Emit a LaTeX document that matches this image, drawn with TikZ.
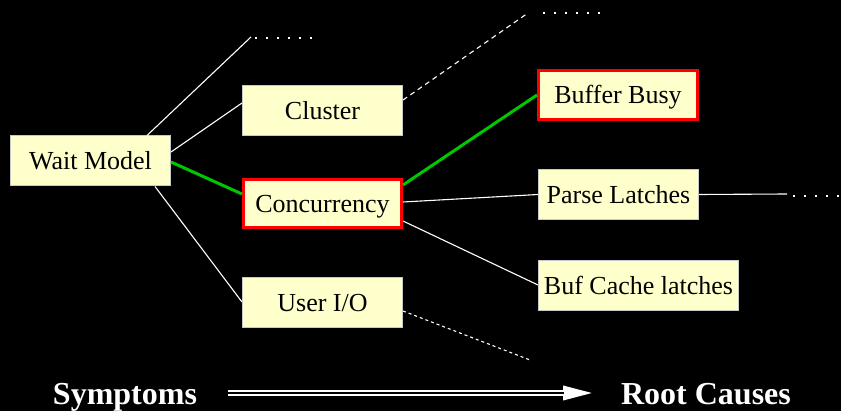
\documentclass[tikz,border=0pt]{standalone}
\usepackage{fontspec}
\setmainfont{Liberation Serif}
\usetikzlibrary{calc,arrows.meta}
\definecolor{boxfill}{HTML}{FFFFCC}
\definecolor{boxline}{HTML}{C8C8C8}
\definecolor{hotred}{HTML}{FF0000}
\definecolor{pathgreen}{HTML}{00C800}
\tikzset{
  cause/.style={draw=boxline, line width=1pt, fill=boxfill, inner sep=0pt,
    text height=18pt, text depth=0pt, minimum height=50pt,
    font=\fontsize{26}{30}\selectfont},
  hotcause/.style={cause, draw=hotred, line width=3pt},
  link/.style={white, line width=1.1pt},
  hotlink/.style={pathgreen, line width=3pt},
  dashlink/.style={white, line width=1.1pt, dash pattern=on 5pt off 4pt},
  moredots/.style={white, line width=2pt, dash pattern=on 2pt off 9pt},
  caption/.style={white, font=\bfseries\fontsize{32}{36}\selectfont, anchor=base}
}
\begin{document}
\begin{tikzpicture}[x=1pt,y=-1pt]
\fill[black] (0,0) rectangle (841,411);
\useasboundingbox (0,0) rectangle (841,411);

% boxes
\node[cause, minimum width=160pt] (wm) at (90.5,161) {Wait Model};
\node[cause, minimum width=160pt] (cl) at (322.5,111) {Cluster};
\node[hotcause, minimum width=158pt, minimum height=48pt] (cc) at (322.5,203.5) {Concurrency};
\node[cause, minimum width=160pt] (uio) at (322.5,303) {User I/O};
\node[hotcause, minimum width=159pt, minimum height=49pt] (bb) at (618,95) {Buffer Busy};
\node[cause, minimum width=160pt] (pl) at (618.5,194.5) {Parse Latches};
\node[cause, minimum width=200pt] (bcl) at (638.5,286) {Buf Cache latches};

% free ends of the open branches
\coordinate (wmtop) at (251,37);
\coordinate (wmdotsA) at (255,38);
\coordinate (wmdotsB) at (313,38);
\coordinate (cltop) at (528,13);
\coordinate (cldotsA) at (543,13);
\coordinate (cldotsB) at (601,13);
\coordinate (plend) at (787,194);
\coordinate (pldotsA) at (793,196);
\coordinate (pldotsB) at (841,196);
\coordinate (uioend) at (530,360);

% branches
\draw[link] ($(wm.north west)+(137,0)$) -- (wmtop);
\draw[moredots] (wmdotsA) -- (wmdotsB);
\draw[link] ($(wm.east)+(0,-9)$) -- ($(cl.west)+(0,-8)$);
\draw[link] ($(wm.south west)+(145,0)$) -- ($(uio.west)+(0,-1)$);
\draw[dashlink] ($(cl.east)+(0,-11)$) -- (cltop);
\draw[moredots] (cldotsA) -- (cldotsB);
\draw[link] ($(cc.east)+(0,-1.5)$) -- (pl.west);
\draw[link] ($(cc.east)+(0,17.5)$) -- ($(bcl.west)+(0,-1)$);
\draw[link] (pl.east) -- (plend);
\draw[moredots] (pldotsA) -- (pldotsB);
\draw[white, line width=1.1pt, dash pattern=on 3pt off 3pt] ($(uio.east)+(0,8)$) -- (uioend);

% highlighted path
\draw[hotlink] ($(wm.east)+(0,1)$) -- ($(cc.west)+(0,-9.5)$);
\draw[hotlink] ($(cc.east)+(0,-18.5)$) -- (bb.west);

% bottom captions and double arrow
\node[caption] (sym) at (125,405) {Symptoms};
\node[caption] (root) at (706,405) {Root Causes};
\coordinate (arrA) at (228,393);
\coordinate (arrB) at (595,393);
\draw[white, line width=6pt, -{Triangle[length=32pt,width=13pt]}] (arrA) -- (arrB);
\draw[black, line width=2pt, shorten >=31pt] (arrA) -- (arrB);
\end{tikzpicture}
\end{document}
